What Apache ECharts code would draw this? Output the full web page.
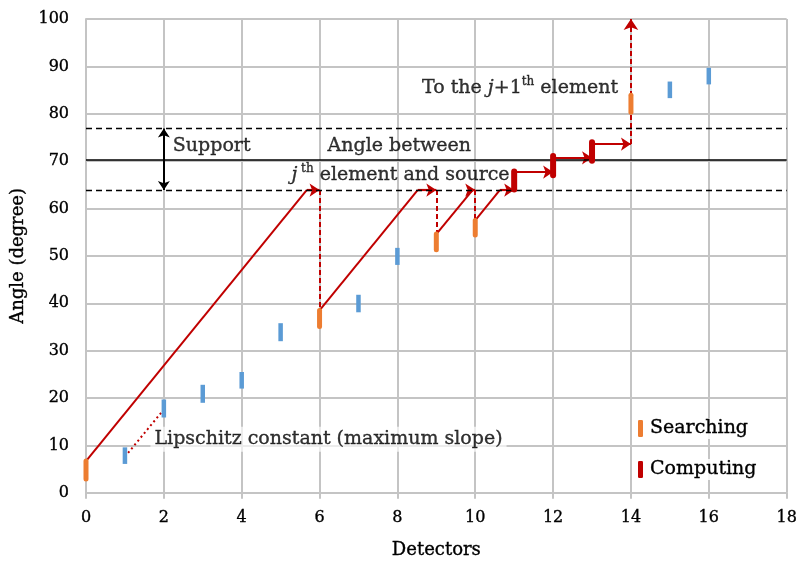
<!DOCTYPE html>
<html>
<head>
<meta charset="utf-8">
<script src="https://cdn.jsdelivr.net/npm/echarts@6/dist/echarts.min.js"></script>
<style>
  html, body { margin: 0; padding: 0; background: #ffffff; }
  #chart { width: 800px; height: 565px; }
</style>
</head>
<body>
<div id="chart"></div>
<script>
// Detector index and the angular interval covered by each detector (degrees)
const detectors = [0, 1, 2, 3, 4, 5, 6, 7, 8, 9, 10, 11, 12, 13, 14, 15, 16];
const rangeLow  = [2.9, 6.1, 15.9, 19.0, 22.0, 32.0, 35.1, 38.1, 48.1, 51.3, 54.4, 64.0, 67.0, 70.1, 80.3, 83.3, 86.2];
const rangeHigh = [6.7, 9.6, 19.7, 22.8, 25.5, 35.8, 38.5, 41.8, 51.7, 54.6, 57.5, 67.8, 71.1, 74.0, 83.9, 86.8, 89.7];
// What the algorithm does at each detector
const phase = ['search', 'skip', 'skip', 'skip', 'skip', 'skip', 'search', 'skip', 'skip',
               'search', 'search', 'compute', 'compute', 'compute', 'search', 'skip', 'skip'];

// Angle between the j-th element and the source, and its support band
const targetAngle = 70.2;
const supportLow = 63.9;
const supportHigh = 76.9;

// Jumps bounded by the Lipschitz constant: start point, point reached on the support edge, next detector
const jumpStart = [[0, 6.7], [6, 38.5], [9, 54.6], [10, 57.5]];
const jumpReach = [5.67, 8.52, 9.93, 10.63];
const jumpLand  = [6, 9, 10, 11];

// Steps while computing inside the support band
const stepFrom  = [11, 12, 13];
const stepTo    = [12, 13, 14];
const stepLevel = [67.7, 70.7, 73.6];
const exitTop = 100;

// Dotted example of the maximum slope
const slopeExample = [[1, 7.6], [2, 17.6]];

const xTicks = { min: 0, max: 18, interval: 2 };
const yTicks = { min: 0, max: 100, interval: 10 };

const RED = '#c00000';
const BLUE = '#5b9bd5';
const ORANGE = '#ed7d31';
const GRID = '#c4c4c4';
const INK = '#000000';
const SERIF = 'DejaVu Serif';

function rangeData(kind) {
  return detectors
    .map((d, i) => [d, rangeLow[i], rangeHigh[i], phase[i]])
    .filter(r => r[3] === kind)
    .map(r => [r[0], r[1], r[2]]);
}

function rangeRenderer(color, width, cap) {
  return function (params, api) {
    const x = api.value(0);
    const p1 = api.coord([x, api.value(1)]);
    const p2 = api.coord([x, api.value(2)]);
    return {
      type: 'line',
      shape: { x1: p1[0], y1: p1[1], x2: p2[0], y2: p2[1] },
      style: { stroke: color, lineWidth: width, lineCap: cap }
    };
  };
}

// Build the arrow / connector segments
const solidRed = [];
const dashedRedDrops = [];
const arrowRed = [];
jumpStart.forEach((s, i) => {
  solidRed.push({ coords: [s, [jumpReach[i], supportLow]] });
  arrowRed.push({ coords: [[jumpReach[i], supportLow], [jumpLand[i], supportLow]] });
});
// dashed drops from the support edge down to the next searched detector
jumpLand.slice(0, 3).forEach((x) => {
  const idx = detectors.indexOf(x);
  dashedRedDrops.push({ coords: [[x, supportLow], [x, rangeHigh[idx]]] });
});
stepFrom.forEach((x, i) => {
  arrowRed.push({ coords: [[x, stepLevel[i]], [stepTo[i], stepLevel[i]]] });
});
const exitArrow = [{ coords: [[stepTo[stepTo.length - 1], stepLevel[stepLevel.length - 1]],
                              [stepTo[stepTo.length - 1], exitTop]] }];

const inkStroke = { textBorderColor: INK, textBorderWidth: 0.35 };
const baseText = Object.assign({ fontFamily: SERIF, fontSize: 19, color: INK }, inkStroke);
const richText = {
  it: Object.assign({ fontFamily: SERIF, fontSize: 19, fontStyle: 'italic', color: INK }, inkStroke),
  sup: Object.assign({ fontFamily: SERIF, fontSize: 12, color: INK, padding: [0, 0, 12, 0] }, inkStroke),
  n: Object.assign({ fontFamily: SERIF, fontSize: 19, color: INK }, inkStroke)
};

function note(x, y, text, position, extra) {
  return {
    value: [x, y],
    label: Object.assign({
      show: true,
      position: position,
      distance: 0,
      formatter: text,
      rich: richText
    }, baseText, extra || {})
  };
}

const notes = [
  note(2.23, 73.2, '{n|Support}', 'right'),
  note(8.05, 73.2, '{n|Angle between}', 'inside'),
  note(8.08, 67.1, '{it|j}{sup| th} {n|element and source}', 'inside'),
  note(11.15, 85.4, '{n|To the }{it|j}{n|+1}{sup|th}{n| element}', 'inside'),
  note(6.23, 11.3, '{n|Lipschitz constant (maximum slope)}', 'inside', {
    backgroundColor: 'rgba(255,255,255,0.85)', padding: [3, 4]
  })
];

const chart = echarts.init(document.getElementById('chart'), null, { renderer: 'canvas' });
chart.setOption({
  animation: false,
  backgroundColor: '#ffffff',
  grid: { left: 86, right: 13, top: 19, bottom: 68, containLabel: false },
  legend: {
    data: ['Searching', 'Computing'],
    orient: 'vertical',
    left: 633,
    top: 413,
    itemWidth: 5,
    itemHeight: 17,
    itemGap: 20,
    icon: 'roundRect',
    selectedMode: false,
    textStyle: Object.assign({
      fontFamily: SERIF, fontSize: 19, color: INK,
      backgroundColor: 'rgba(255,255,255,0.85)', padding: [1, 2]
    }, inkStroke)
  },
  xAxis: {
    type: 'value',
    min: xTicks.min, max: xTicks.max, interval: xTicks.interval,
    name: 'Detectors',
    nameLocation: 'middle',
    nameGap: 49,
    nameTextStyle: Object.assign({ fontFamily: SERIF, fontSize: 18, color: INK }, inkStroke),
    axisLine: { show: true, lineStyle: { color: GRID, width: 2 } },
    axisTick: { show: true, length: 6, lineStyle: { color: GRID, width: 2 } },
    axisLabel: Object.assign({ fontFamily: SERIF, fontSize: 16, color: INK, margin: 17 }, inkStroke),
    splitLine: { show: true, lineStyle: { color: GRID, width: 2 } }
  },
  yAxis: {
    type: 'value',
    min: yTicks.min, max: yTicks.max, interval: yTicks.interval,
    name: 'Angle (degree)',
    nameLocation: 'middle',
    nameGap: 51,
    nameTextStyle: Object.assign({ fontFamily: SERIF, fontSize: 18, color: INK }, inkStroke),
    axisLine: { show: true, lineStyle: { color: GRID, width: 2 } },
    axisTick: { show: false },
    axisLabel: Object.assign({ fontFamily: SERIF, fontSize: 16, color: INK, margin: 17 }, inkStroke),
    splitLine: { show: true, lineStyle: { color: GRID, width: 2 } }
  },
  series: [
    {
      // target angle and support band
      type: 'line',
      data: [],
      silent: true,
      markLine: {
        silent: true,
        symbol: 'none',
        label: { show: false },
        data: [
          { yAxis: targetAngle, lineStyle: { color: '#000', width: 1.6, type: 'solid' } },
          { yAxis: supportLow, lineStyle: { color: '#000', width: 1.4, type: [6, 4] } },
          { yAxis: supportHigh, lineStyle: { color: '#000', width: 1.4, type: [6, 4] } }
        ]
      },
      z: 2
    },
    {
      type: 'lines',
      coordinateSystem: 'cartesian2d',
      silent: true,
      symbol: ['arrow', 'arrow'],
      symbolSize: 9,
      lineStyle: { color: '#000', width: 2, opacity: 1 },
      data: [{ coords: [[2, supportLow], [2, supportHigh]] }],
      z: 3
    },
    {
      type: 'lines',
      coordinateSystem: 'cartesian2d',
      silent: true,
      symbol: 'none',
      lineStyle: { color: RED, width: 2, opacity: 1 },
      data: solidRed,
      z: 3
    },
    {
      type: 'lines',
      coordinateSystem: 'cartesian2d',
      silent: true,
      symbol: ['none', 'arrow'],
      symbolSize: 10,
      lineStyle: { color: RED, width: 2.2, opacity: 1 },
      data: arrowRed,
      z: 3
    },
    {
      type: 'lines',
      coordinateSystem: 'cartesian2d',
      silent: true,
      symbol: 'none',
      lineStyle: { color: RED, width: 2, type: [5, 3], opacity: 1 },
      data: dashedRedDrops,
      z: 3
    },
    {
      type: 'lines',
      coordinateSystem: 'cartesian2d',
      silent: true,
      symbol: ['none', 'arrow'],
      symbolSize: 11,
      lineStyle: { color: RED, width: 2, type: [5, 3], opacity: 1 },
      data: exitArrow,
      z: 3
    },
    {
      type: 'lines',
      coordinateSystem: 'cartesian2d',
      silent: true,
      symbol: 'none',
      lineStyle: { color: RED, width: 2, type: [2, 3], opacity: 1 },
      data: [{ coords: slopeExample }],
      z: 3
    },
    {
      name: 'Detected',
      type: 'custom',
      renderItem: rangeRenderer(BLUE, 4.5, 'butt'),
      encode: { x: 0, y: [1, 2] },
      itemStyle: { color: BLUE },
      data: rangeData('skip'),
      z: 4
    },
    {
      name: 'Searching',
      type: 'custom',
      renderItem: rangeRenderer(ORANGE, 5, 'round'),
      encode: { x: 0, y: [1, 2] },
      itemStyle: { color: ORANGE },
      data: rangeData('search'),
      z: 5
    },
    {
      name: 'Computing',
      type: 'custom',
      renderItem: rangeRenderer(RED, 6, 'round'),
      encode: { x: 0, y: [1, 2] },
      itemStyle: { color: RED },
      data: rangeData('compute'),
      z: 5
    },
    {
      type: 'scatter',
      symbolSize: 0,
      silent: true,
      data: notes,
      z: 6
    }
  ]
});
</script>
</body>
</html>
